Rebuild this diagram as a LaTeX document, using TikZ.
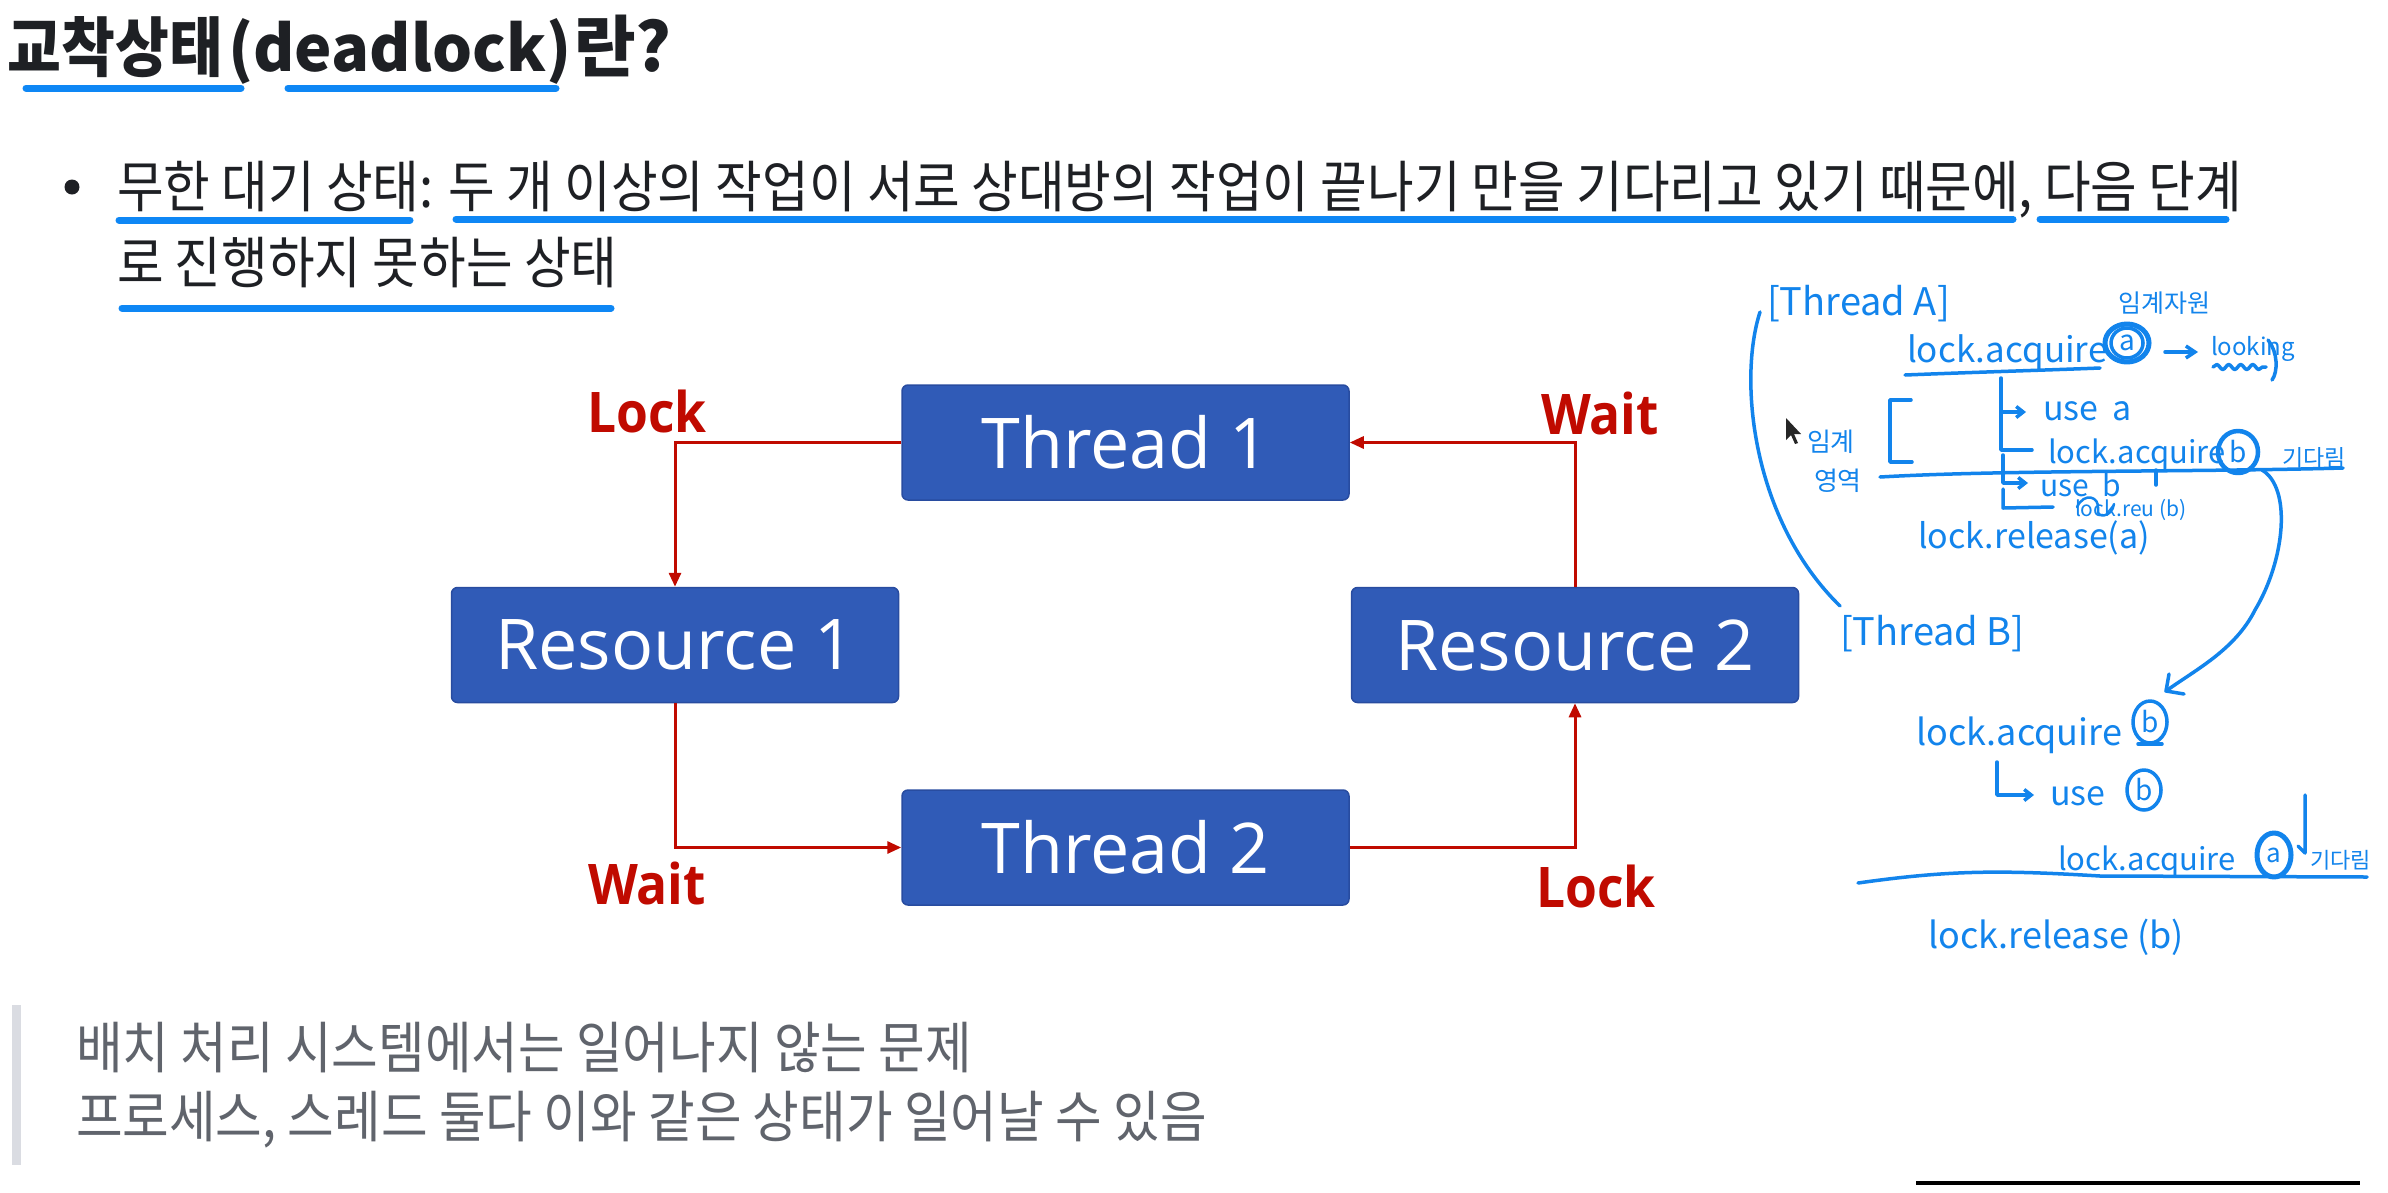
\documentclass[tikz,border=0pt]{standalone}
\usepackage{fontspec}
\usetikzlibrary{arrows.meta,decorations.pathmorphing}
\newfontfamily\kr[FakeStretch=0.905]{Noto Sans CJK KR}
\newfontfamily\krq[FakeStretch=0.905]{Noto Sans CJK KR}
\newfontfamily\krtitle[FakeStretch=0.9]{Noto Sans CJK KR}
\newfontfamily\krlatin{Noto Sans CJK KR}
\newfontfamily\hand{Noto Sans CJK KR}
\newfontfamily\boxfont{Open Sans}
\newfontfamily\labfont[FakeStretch=0.92]{Open Sans}
\definecolor{txt}{RGB}{30,32,36}
\definecolor{quotegray}{RGB}{96,100,108}
\definecolor{barcol}{RGB}{218,220,226}
\definecolor{ulblue}{RGB}{14,135,245}
\definecolor{penblue}{RGB}{18,132,236}
\definecolor{boxblue}{RGB}{48,91,183}
\definecolor{boxedge}{RGB}{40,76,160}
\definecolor{arrred}{RGB}{192,10,0}
\newcommand{\fs}[1]{\fontsize{#1}{#1}\selectfont}
\tikzset{
  txtnode/.style={inner sep=0pt, outer sep=0pt, anchor=base west},
  ul/.style={ulblue, line width=7pt, line cap=round},
  tbox/.style={rectangle, rounded corners=6pt, fill=boxblue, draw=boxedge, line width=1.5pt,
    minimum width=447pt, minimum height=115pt, text=white, font=\boxfont\fs{70}},
  lab/.style={text=arrred, inner sep=0pt, font=\labfont\bfseries\fs{56}},
  conn/.style={arrred, line width=3pt, -{Triangle[length=14pt,width=12pt]}},
  pen/.style={penblue, line width=3.5pt, line cap=round, line join=round},
  pentext/.style={txtnode, text=penblue},
}
\begin{document}
\begin{tikzpicture}[x=1pt,y=-1pt]
\useasboundingbox (0,0) rectangle (2388,1192);
\fill[white] (0,0) rectangle (2388,1192);

% ---------- title ----------
\node[txtnode, text=txt] (title) at (8,71)
  {\bfseries{\krtitle\fs{65}교착상태}\hspace{5pt}{\krlatin\fs{63}(deadlock)}\hspace{3pt}{\krlatin\fs{67}란?}};
\draw[ul] (26,88) -- (241,88);
\draw[ul] (288,88) -- (556,88);

% ---------- bullet ----------
\fill[txt] (72,187) circle (7.5);
\node[txtnode, text=txt] (b1) at (117,207)
  {\kr\fs{56}무한 대기 상태: 두 개 이상의 작업이 서로 상대방의 작업이 끝나기 만을 기다리고 있기 때문에, 다음 단계};
\node[txtnode, text=txt] (b2) at (117,283)
  {\kr\fs{56}로 진행하지 못하는 상태};
\draw[ul] (119,220) -- (410,220);
\draw[ul] (456,219) -- (2013,219);
\draw[ul] (2040,219) -- (2226,219);
\draw[ul] (122,308) -- (611,308);

% ---------- diagram ----------
\node[tbox] (t1) at (1125.5,442.5) {Thread 1};
\node[tbox] (r1) at (675,645) {Resource 1};
\node[tbox] (r2) at (1575,645) {Resource 2};
\node[tbox] (t2) at (1125.5,847.5) {Thread 2};
\draw[conn] (t1.west) -| (r1.north);
\draw[conn] (r1.south) |- (t2.west);
\draw[conn] (t2.east) -| (r2.south);
\draw[conn] (r2.north) |- (t1.east);
\node[lab] (lk1) at (647,411) {Lock};
\node[lab] (wt1) at (1600,413) {Wait};
\node[lab] (wt2) at (647,883) {Wait};
\node[lab] (lk2) at (1596,886) {Lock};

% ---------- handwritten notes ----------
\node[pentext] (tha) at (1767,315) {\hand\fs{38}[Thread A]};
\node[pentext] (crit) at (2118,312) {\hand\fs{25}임계자원};
\node[pentext] (acqa) at (1907,362) {\hand\fs{35}lock.acquire};
\draw[pen] (1905,375) .. controls (1980,372) and (2050,370) .. (2100,368);
\node[pentext, anchor=center] (ca) at (2127,343) {\hand\fs{28}a};
\draw[pen, line width=5pt] (ca) ellipse (22 and 19);
\draw[pen] (ca) ellipse (16 and 15);
\coordinate (arA) at (2165,352);
\coordinate (arB) at (2198,352);
\draw[pen, -{Straight Barb[length=9pt,width=12pt]}] (arA) -- (arB);
\node[pentext] (look) at (2211,355) {\hand\fs{24}looking};
\draw[pen, decorate, decoration={snake, amplitude=2.5pt, segment length=12pt}] (2213,367) -- (2266,367);
\draw[pen] (2268,340) .. controls (2278,352) and (2278,372) .. (2272,380);

% tree of Thread A
\coordinate (tr0) at (2001,378);
\coordinate (tr1) at (2001,412);
\coordinate (tr1e) at (2026,412);
\coordinate (tr2) at (2001,450);
\coordinate (tr2e) at (2032,450);
\coordinate (tr3) at (2003,455);
\coordinate (tr4) at (2003,483);
\coordinate (tr4e) at (2028,483);
\coordinate (tr5) at (2003,489);
\coordinate (tr6) at (2003,508);
\coordinate (tr6e) at (2053,507);
\draw[pen, -{Straight Barb[length=7pt,width=11pt]}] (tr0) -- (tr1) -- (tr1e);
\draw[pen] (tr1) -- (tr2) -- (tr2e);
\draw[pen, -{Straight Barb[length=7pt,width=11pt]}] (tr3) -- (tr4) -- (tr4e);
\draw[pen] (tr5) -- (tr6) -- (tr6e);
\node[pentext] (usea) at (2043,420) {\hand\fs{34}use\hspace{14pt}a};

% critical section bracket and label
\draw[pen] (1911,400) -- (1890,400) -- (1890,462) -- (1912,462);
\node[pentext] (cs1) at (1807,451) {\hand\fs{26}임계};
\node[pentext] (cs2) at (1814,490) {\hand\fs{26}영역};

% mouse pointer
\fill[black!85] (1786,418) -- (1786,440) -- (1791,435) -- (1795,444) -- (1798,443) -- (1794,434) -- (1801,434) -- cycle;

% crossed second acquire
\node[pentext] (acqb1) at (2048,463) {\hand\fs{31}lock.acquire};
\node[pentext, anchor=center] (cb1) at (2238,452) {\hand\fs{28}b};
\draw[pen, line width=4.5pt] (cb1) ellipse (20 and 21);
\node[pentext] (wait1) at (2282,466) {\hand\fs{23}기다림};
\coordinate (sepL) at (1880,477);
\coordinate (sepR) at (2343,468);
\draw[pen] (sepL) .. controls (2000,470) and (2200,472) .. (sepR);
\node[pentext] (useb) at (2040,496) {\hand\fs{30}use\hspace{14pt}b};
\draw[pen] (2156,470) -- (2156,485);
\node[pentext] (relb1) at (2075,516) {\hand\fs{21}lock.reu (b)};
\draw[pen, line width=2.5pt] (2077,507) .. controls (2084,492) and (2100,496) .. (2098,510)
  .. controls (2096,518) and (2112,518) .. (2114,504);
\node[pentext] (rela) at (1918,548) {\hand\fs{34}lock.release(a)};

% connecting curves
\coordinate (lcA) at (1760,312);
\coordinate (lcB) at (1840,606);
\draw[pen] (lcA) .. controls (1738,380) and (1752,520) .. (lcB);
\coordinate (rcA) at (2262,470);
\coordinate (rcM) at (2255,610);
\coordinate (rcT) at (2166,691);
\draw[pen] (rcA) .. controls (2292,488) and (2285,560) .. (rcM)
  .. controls (2235,650) and (2195,670) .. (rcT);
\draw[pen] (2169,674) -- (rcT) -- (2184,694);

% Thread B
\node[pentext] (thb) at (1840,645) {\hand\fs{38}[Thread B]};
\node[pentext] (acqb) at (1916,745) {\hand\fs{36}lock.acquire};
\node[pentext, anchor=center] (cb2) at (2150,722) {\hand\fs{28}b};
\draw[pen] (cb2) ellipse (17 and 21);
\draw[pen] (2138,744) -- (2162,744);
\coordinate (hb0) at (1997,762);
\coordinate (hb1) at (1997,795);
\coordinate (hb2) at (2034,795);
\draw[pen, -{Straight Barb[length=7pt,width=11pt]}] (hb0) -- (hb1) -- (hb2);
\node[pentext] (useb2) at (2050,805) {\hand\fs{34}use};
\node[pentext, anchor=center] (cb3) at (2144,790) {\hand\fs{28}b};
\draw[pen] (cb3) ellipse (17 and 20);
\node[pentext] (acqa2) at (2058,870) {\hand\fs{31}lock.acquire};
\node[pentext, anchor=center] (ca2) at (2274,855) {\hand\fs{26}a};
\draw[pen, line width=5pt] (ca2) ellipse (17 and 22);
\node[pentext] (wait2) at (2310,868) {\hand\fs{22}기다림};
\draw[pen] (2305,795) -- (2305,853) -- (2298,846);
\coordinate (sep2L) at (1858,883);
\coordinate (sep2R) at (2367,877);
\draw[pen] (sep2L) .. controls (1950,870) and (2000,870) .. (2100,876) -- (sep2R);
\node[pentext] (relb) at (1928,948) {\hand\fs{36}lock.release (b)};

% ---------- quote ----------
\fill[barcol] (12,1005) rectangle (21,1165);
\node[txtnode, text=quotegray] (q1) at (76,1068)
  {\krq\fs{56}배치 처리 시스템에서는 일어나지 않는 문제};
\node[txtnode, text=quotegray] (q2) at (76,1137)
  {\krq\fs{56}프로세스, 스레드 둘다 이와 같은 상태가 일어날 수 있음};

% bottom right rule
\draw[black, line width=4.5pt] (1916,1183) -- (2360,1183);
\end{tikzpicture}
\end{document}
